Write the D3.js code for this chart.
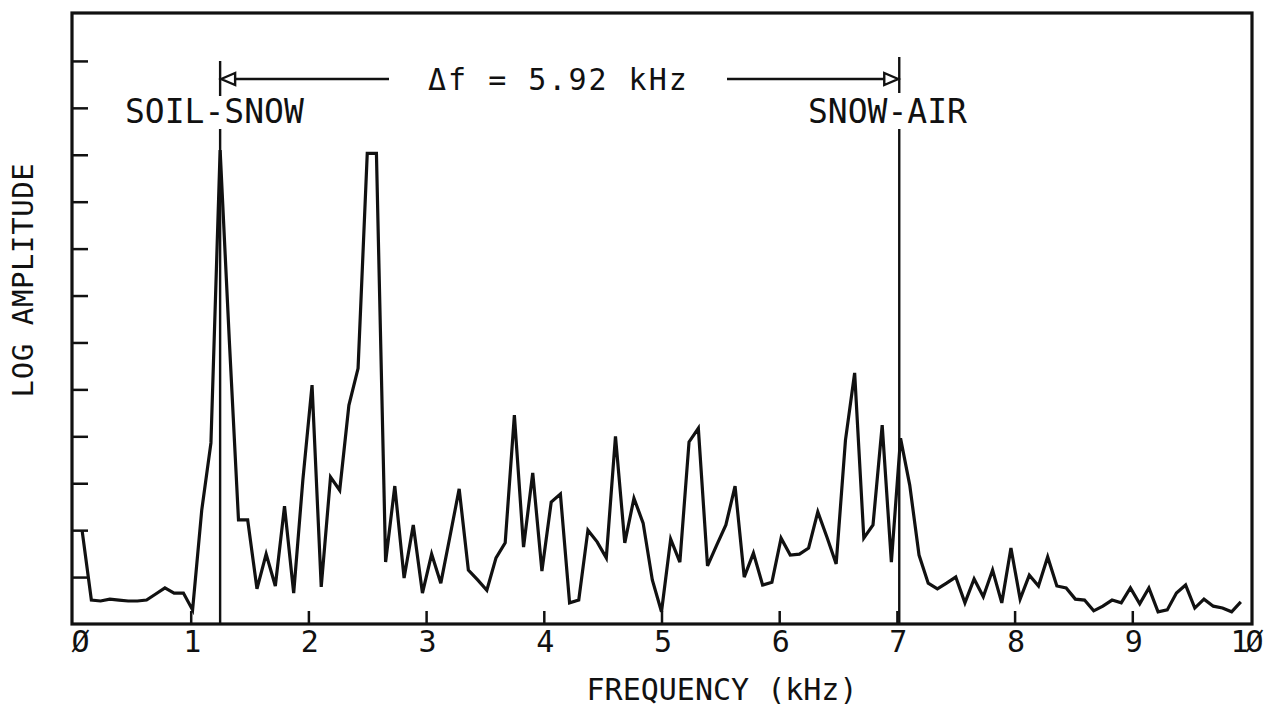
<!DOCTYPE html>
<html>
<head>
<meta charset="utf-8">
<script src="https://cdn.jsdelivr.net/npm/d3@7"></script>
<style>
  body { margin: 0; background: #fff; }
  svg { display: block; }
  text { font-family: "DejaVu Sans Mono", monospace; fill: #111; }
</style>
</head>
<body>
<svg width="1288" height="709"></svg>
<script>
// spectrum bins (kHz) and log amplitude in tick divisions
var freqKHz = [
  0.078, 0.156, 0.234, 0.313, 0.391, 0.469, 0.547, 0.625, 0.703, 0.781,
  0.859, 0.938, 1.016, 1.094, 1.172, 1.25, 1.328, 1.406, 1.484, 1.563,
  1.641, 1.719, 1.797, 1.875, 1.953, 2.031, 2.109, 2.188, 2.266, 2.344,
  2.422, 2.5, 2.578, 2.656, 2.734, 2.813, 2.891, 2.969, 3.047, 3.125,
  3.203, 3.281, 3.359, 3.438, 3.516, 3.594, 3.672, 3.75, 3.828, 3.906,
  3.984, 4.063, 4.141, 4.219, 4.297, 4.375, 4.453, 4.531, 4.609, 4.688,
  4.766, 4.844, 4.922, 5.0, 5.078, 5.156, 5.234, 5.313, 5.391, 5.469,
  5.547, 5.625, 5.703, 5.781, 5.859, 5.938, 6.016, 6.094, 6.172, 6.25,
  6.328, 6.406, 6.484, 6.563, 6.641, 6.719, 6.797, 6.875, 6.953, 7.031,
  7.109, 7.188, 7.266, 7.344, 7.422, 7.5, 7.578, 7.656, 7.734, 7.813,
  7.891, 7.969, 8.047, 8.125, 8.203, 8.281, 8.359, 8.438, 8.516, 8.594,
  8.672, 8.75, 8.828, 8.906, 8.984, 9.063, 9.141, 9.219, 9.297, 9.375,
  9.453, 9.531, 9.609, 9.688, 9.766, 9.844, 9.922
];
var logAmp = [
  1.98, 0.51, 0.49, 0.53, 0.51, 0.49, 0.49, 0.51, 0.64, 0.77,
  0.66, 0.66, 0.30, 2.43, 3.86, 10.10, 6.05, 2.22, 2.22, 0.75,
  1.49, 0.81, 2.51, 0.66, 3.07, 5.09, 0.79, 3.13, 2.85, 4.66,
  5.45, 10.03, 10.03, 1.32, 2.94, 0.98, 2.11, 0.66, 1.49, 0.87,
  1.87, 2.88, 1.15, 0.94, 0.72, 1.41, 1.73, 4.45, 1.64, 3.22,
  1.13, 2.60, 2.77, 0.45, 0.51, 2.00, 1.75, 1.41, 4.00, 1.73,
  2.68, 2.15, 0.94, 0.26, 1.81, 1.32, 3.88, 4.17, 1.24, 1.68,
  2.11, 2.94, 1.00, 1.51, 0.83, 0.89, 1.83, 1.47, 1.49, 1.62,
  2.39, 1.85, 1.28, 3.92, 5.35, 1.83, 2.11, 4.24, 1.32, 3.96,
  2.96, 1.47, 0.87, 0.75, 0.87, 1.00, 0.45, 0.96, 0.58, 1.15,
  0.45, 1.62, 0.53, 1.04, 0.81, 1.43, 0.81, 0.77, 0.53, 0.51,
  0.28, 0.38, 0.51, 0.45, 0.77, 0.43, 0.77, 0.26, 0.30, 0.66,
  0.83, 0.34, 0.53, 0.38, 0.34, 0.26, 0.47
];
var xTicks = [0, 1, 2, 3, 4, 5, 6, 7, 8, 9, 10];
var yTicks = [1, 2, 3, 4, 5, 6, 7, 8, 9, 10, 11, 12];
var interfaceFreqs = [1.25, 7.02];
var interfaceNames = ["SOIL-SNOW", "SNOW-AIR"];
var deltaLabel = "\u0394f = 5.92 kHz";

var svg = d3.select("svg");

var x = d3.scaleLinear().domain([0, 10]).range([73, 1250]);
var y = d3.scaleLinear().domain([0, 13]).range([624, 14]);

var points = freqKHz.map(function(f, i) { return [f, logAmp[i]]; });

// frame
svg.append("rect")
  .attr("x", x(0) - 1)
  .attr("y", y(13) - 1)
  .attr("width", x(10) - x(0) + 3)
  .attr("height", y(0) - y(13) + 1)
  .attr("fill", "none")
  .attr("stroke", "#111")
  .attr("stroke-width", 3.2);

// axes, ticks pointing inward
var xAxis = svg.append("g")
  .attr("transform", "translate(0," + y(0) + ")")
  .call(d3.axisBottom(x)
    .tickValues(xTicks)
    .tickSizeInner(-13)
    .tickSizeOuter(0)
    .tickPadding(7)
    .tickFormat(function(d) { return String(d).replace(/0/g, "\u00d8"); }));
xAxis.select(".domain").remove();
xAxis.selectAll("line").attr("stroke", "#111").attr("stroke-width", 2.5);
xAxis.selectAll("text")
  .attr("font-family", "DejaVu Sans Mono")
  .attr("font-size", 30)
  .attr("fill", "#111")
  .attr("dx", function(d) { return d === 0 ? 7 : d === 10 ? -5 : 1; })
  .attr("letter-spacing", function(d) { return d === 10 ? -3 : 0; });
xAxis.selectAll(".tick").filter(function(d) { return d === 0 || d === 10; }).select("line").remove();

var yAxis = svg.append("g")
  .attr("transform", "translate(" + x(0) + ",0)")
  .call(d3.axisLeft(y).tickValues(yTicks).tickSizeInner(-15).tickSizeOuter(0).tickFormat(""));
yAxis.select(".domain").remove();
yAxis.selectAll("line").attr("stroke", "#111").attr("stroke-width", 2.5);

// spectrum
svg.append("path")
  .datum(points)
  .attr("fill", "none")
  .attr("stroke", "#111")
  .attr("stroke-width", 3.2)
  .attr("stroke-linejoin", "miter")
  .attr("d", d3.line()
    .x(function(d) { return x(d[0]); })
    .y(function(d) { return y(d[1]); }));

// interface markers
var arrowY = 79;
interfaceFreqs.forEach(function(f, i) {
  var cx = x(f);
  svg.append("line")
    .attr("x1", cx).attr("x2", cx)
    .attr("y1", i === 0 ? 61 : 57).attr("y2", i === 0 ? 96 : 93)
    .attr("stroke", "#111").attr("stroke-width", 2.4);
  svg.append("line")
    .attr("x1", cx).attr("x2", cx)
    .attr("y1", 129).attr("y2", y(0))
    .attr("stroke", "#111").attr("stroke-width", 2.4);
});

var leftX = x(interfaceFreqs[0]);
var rightX = x(interfaceFreqs[1]);

svg.append("line")
  .attr("x1", leftX + 14).attr("x2", 389)
  .attr("y1", arrowY).attr("y2", arrowY)
  .attr("stroke", "#111").attr("stroke-width", 2.4);
svg.append("line")
  .attr("x1", 727).attr("x2", rightX - 14)
  .attr("y1", arrowY).attr("y2", arrowY)
  .attr("stroke", "#111").attr("stroke-width", 2.4);

// open arrow heads
svg.append("path")
  .attr("d", "M" + (leftX + 1) + "," + arrowY + "L" + (leftX + 15) + "," + (arrowY - 6) +
    "L" + (leftX + 15) + "," + (arrowY + 6) + "Z")
  .attr("fill", "#fff").attr("stroke", "#111").attr("stroke-width", 2.4);
svg.append("path")
  .attr("d", "M" + (rightX - 1) + "," + arrowY + "L" + (rightX - 15) + "," + (arrowY - 6) +
    "L" + (rightX - 15) + "," + (arrowY + 6) + "Z")
  .attr("fill", "#fff").attr("stroke", "#111").attr("stroke-width", 2.4);

svg.append("text")
  .attr("x", 428).attr("y", 90)
  .attr("font-size", 30)
  .attr("letter-spacing", 2)
  .text(deltaLabel);

svg.append("text")
  .attr("x", 125).attr("y", 123)
  .attr("font-size", 33)
  .text(interfaceNames[0]);

svg.append("text")
  .attr("x", 808).attr("y", 123)
  .attr("font-size", 33)
  .text(interfaceNames[1]);

// axis titles
svg.append("text")
  .attr("x", 722).attr("y", 700)
  .attr("text-anchor", "middle")
  .attr("font-size", 30)
  .text("FREQUENCY (kHz)");

svg.append("text")
  .attr("transform", "translate(33,280) rotate(-90)")
  .attr("text-anchor", "middle")
  .attr("font-size", 29)
  .attr("letter-spacing", 0.6)
  .text("LOG AMPLITUDE");
</script>
</body>
</html>
